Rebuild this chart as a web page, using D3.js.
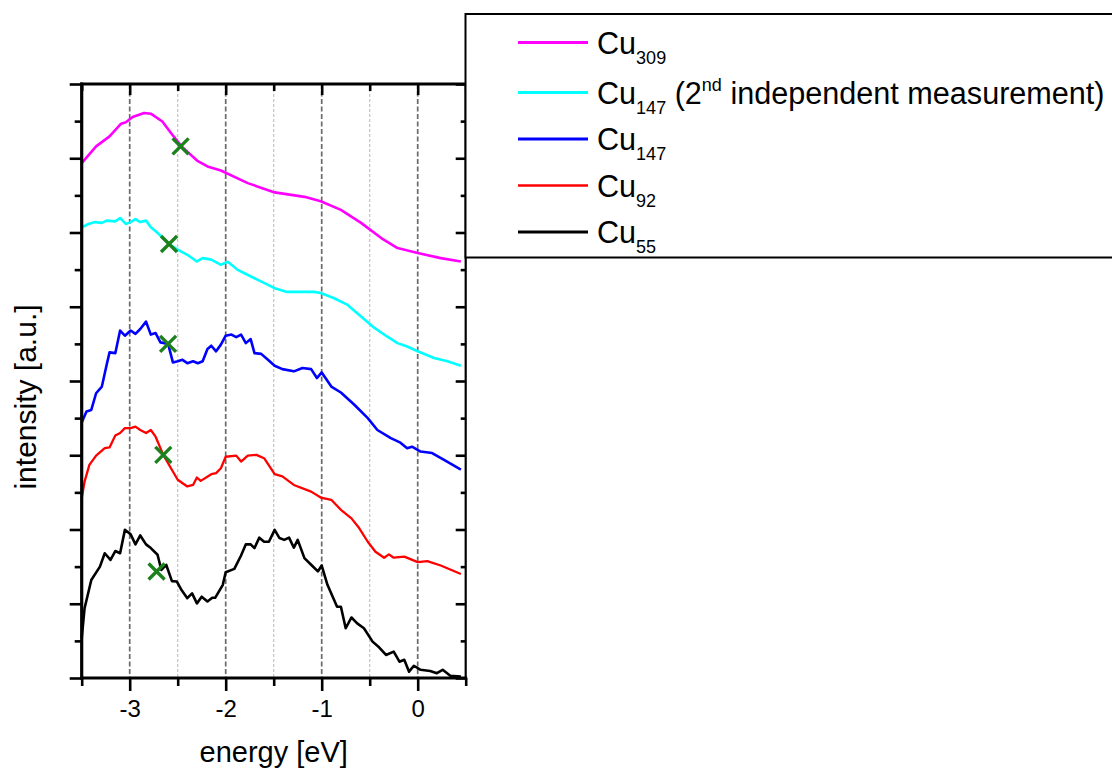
<!DOCTYPE html>
<html>
<head>
<meta charset="utf-8">
<script src="https://cdn.jsdelivr.net/npm/d3@7"></script>
<style>
  html, body { margin: 0; padding: 0; background: #fff; }
  svg { display: block; font-family: "Liberation Sans", Arial, sans-serif; }
</style>
</head>
<body>
<svg id="chart" width="1112" height="769"></svg>
<script>
// Valence-band spectra of Cu clusters, stacked with vertical offsets.
// Each series: [energy (eV), intensity (a.u., offset included)]
const cu309 = [
  [-3.50,13.87],[-3.35,14.32],[-3.21,14.59],[-3.09,14.93],[-3.04,14.97],[-2.97,15.11],
  [-2.85,15.22],[-2.78,15.20],[-2.66,14.99],[-2.57,14.68],[-2.46,14.32],[-2.29,13.92],
  [-2.19,13.78],[-2.05,13.67],[-1.77,13.33],[-1.49,13.08],[-1.18,12.96],[-1.01,12.84],
  [-0.80,12.61],[-0.59,12.26],[-0.38,11.85],[-0.21,11.58],[0.00,11.45],[0.24,11.31],[0.45,11.22]
];
const cu147Second = [
  [-3.50,12.14],[-3.43,12.23],[-3.36,12.28],[-3.29,12.26],[-3.24,12.32],[-3.15,12.30],
  [-3.10,12.39],[-3.04,12.23],[-2.99,12.28],[-2.94,12.36],[-2.89,12.28],[-2.83,12.32],
  [-2.78,12.14],[-2.71,11.99],[-2.59,11.69],[-2.50,11.54],[-2.40,11.40],[-2.30,11.22],
  [-2.24,11.31],[-2.15,11.27],[-2.05,11.13],[-1.98,11.21],[-1.93,11.11],[-1.88,11.00],
  [-1.81,10.91],[-1.67,10.73],[-1.49,10.50],[-1.36,10.40],[-1.22,10.40],[-1.08,10.40],
  [-1.01,10.37],[-0.87,10.23],[-0.73,10.05],[-0.59,9.74],[-0.45,9.43],[-0.32,9.20],
  [-0.21,9.02],[-0.11,8.93],[0.00,8.80],[0.17,8.62],[0.31,8.53],[0.45,8.41]
];
const cu147 = [
  [-3.50,6.88],[-3.45,7.18],[-3.40,7.22],[-3.35,7.67],[-3.29,7.85],[-3.24,8.44],
  [-3.21,8.77],[-3.15,8.75],[-3.10,9.36],[-3.05,9.22],[-2.99,9.36],[-2.94,9.27],
  [-2.89,9.40],[-2.83,9.60],[-2.78,9.25],[-2.73,9.29],[-2.68,9.04],[-2.60,9.00],
  [-2.55,8.50],[-2.50,8.53],[-2.45,8.57],[-2.40,8.48],[-2.34,8.53],[-2.29,8.48],
  [-2.24,8.53],[-2.19,8.86],[-2.15,8.95],[-2.10,8.80],[-2.05,8.98],[-2.00,9.22],
  [-1.94,9.25],[-1.89,9.18],[-1.84,9.25],[-1.79,9.02],[-1.74,9.13],[-1.70,8.75],
  [-1.63,8.73],[-1.56,8.57],[-1.49,8.41],[-1.41,8.32],[-1.29,8.26],[-1.20,8.35],
  [-1.11,8.32],[-1.05,8.08],[-1.00,8.23],[-0.90,7.85],[-0.80,7.69],[-0.66,7.36],
  [-0.52,7.00],[-0.42,6.68],[-0.28,6.46],[-0.18,6.34],[-0.11,6.19],[-0.06,6.23],
  [0.03,6.10],[0.15,6.06],[0.27,5.88],[0.45,5.61]
];
const cu92 = [
  [-3.50,4.84],[-3.47,5.29],[-3.42,5.74],[-3.35,5.99],[-3.26,6.19],[-3.21,6.21],
  [-3.15,6.53],[-3.10,6.60],[-3.05,6.73],[-2.99,6.73],[-2.94,6.77],[-2.89,6.68],
  [-2.83,6.60],[-2.78,6.68],[-2.73,6.50],[-2.65,6.01],[-2.57,5.65],[-2.50,5.34],
  [-2.40,5.16],[-2.34,5.20],[-2.30,5.40],[-2.26,5.31],[-2.15,5.49],[-2.10,5.52],
  [-2.05,5.65],[-2.00,5.96],[-1.89,5.99],[-1.84,5.83],[-1.77,5.99],[-1.68,6.01],
  [-1.60,5.92],[-1.49,5.49],[-1.41,5.43],[-1.29,5.20],[-1.11,5.02],[-1.01,4.86],
  [-0.90,4.80],[-0.80,4.53],[-0.69,4.30],[-0.61,4.04],[-0.52,3.67],[-0.44,3.40],
  [-0.35,3.24],[-0.30,3.33],[-0.25,3.24],[-0.14,3.27],[0.00,3.12],[0.10,3.15],
  [0.24,3.03],[0.45,2.80]
];
const cu55 = [
  [-3.50,1.07],[-3.47,1.88],[-3.40,2.64],[-3.31,3.00],[-3.26,3.36],[-3.20,3.18],
  [-3.15,3.42],[-3.10,3.36],[-3.05,3.99],[-2.99,3.87],[-2.94,3.60],[-2.89,3.84],
  [-2.83,3.60],[-2.78,3.50],[-2.71,3.32],[-2.67,2.91],[-2.62,3.05],[-2.56,2.61],
  [-2.51,2.60],[-2.46,2.37],[-2.40,2.15],[-2.35,2.28],[-2.30,2.01],[-2.25,2.19],
  [-2.19,2.06],[-2.14,2.16],[-2.11,2.16],[-2.03,2.51],[-2.00,2.85],[-1.91,2.94],
  [-1.84,3.30],[-1.79,3.60],[-1.74,3.60],[-1.70,3.50],[-1.65,3.78],[-1.60,3.67],
  [-1.55,3.67],[-1.49,3.99],[-1.44,3.77],[-1.39,3.72],[-1.34,3.78],[-1.29,3.51],
  [-1.25,3.72],[-1.18,3.23],[-1.11,3.05],[-1.04,2.87],[-1.00,3.03],[-0.94,2.51],
  [-0.84,1.92],[-0.80,1.92],[-0.75,1.34],[-0.69,1.63],[-0.63,1.47],[-0.56,1.34],
  [-0.47,0.98],[-0.40,0.82],[-0.33,0.62],[-0.25,0.71],[-0.19,0.44],[-0.14,0.49],
  [-0.09,0.17],[-0.04,0.33],[0.03,0.22],[0.13,0.19],[0.20,0.13],[0.26,0.22],
  [0.34,0.06],[0.45,0.04]
];

// Marked onset positions (green crosses), one per spectrum, top to bottom
const markerEnergy = [-2.47, -2.59, -2.60, -2.65, -2.72];
const markerIntensity = [14.32, 11.69, 9.00, 6.01, 2.87];

// Legend entries, top to bottom
const seriesSizes = ["309", "147", "147", "92", "55"];
const seriesNotes = ["", "2nd independent measurement", "", "", ""];
const seriesColors = ["#ff00ff", "#00ffff", "#0000ff", "#ff0000", "#000000"];
const seriesData = [cu309, cu147Second, cu147, cu92, cu55];

// Axis ticks
const xMajorTicks = [-3, -2, -1, 0];
const xMinorTicks = [-3.5, -2.5, -1.5, -0.5, 0.5];
const yMajorTicks = [0, 2, 4, 6, 8, 10, 12, 14, 16];
const yMinorTicks = [1, 3, 5, 7, 9, 11, 13, 15];

const svg = d3.select("#chart");
const plot = { left: 81.7, right: 465.7, top: 84, bottom: 678 };

const x = d3.scaleLinear().domain([-3.5, 0.5]).range([plot.left, plot.right]);
const y = d3.scaleLinear().domain([0, 16]).range([plot.bottom, plot.top]);

// Vertical reference lines
const grid = svg.append("g");
grid.selectAll("line.minor").data(xMinorTicks.filter(d => d > -3.5 && d < 0.5)).join("line")
  .attr("x1", d => x(d)).attr("x2", d => x(d))
  .attr("y1", plot.top).attr("y2", plot.bottom)
  .attr("stroke", "#c4c4c4").attr("stroke-width", 1.2).attr("stroke-dasharray", "3,2");
grid.selectAll("line.major").data(xMajorTicks).join("line")
  .attr("x1", d => x(d)).attr("x2", d => x(d))
  .attr("y1", plot.top).attr("y2", plot.bottom)
  .attr("stroke", "#6a6a6a").attr("stroke-width", 1.7).attr("stroke-dasharray", "5,2.5");

// Spectra
const line = d3.line().x(d => x(d[0])).y(d => y(d[1]));
svg.append("g").selectAll("path").data(seriesData).join("path")
  .attr("d", line)
  .attr("fill", "none")
  .attr("stroke", (d, i) => seriesColors[i])
  .attr("stroke-width", (d, i) => i === 3 ? 2.3 : 2.6)
  .attr("stroke-linejoin", "round");

// Onset markers
svg.append("g").selectAll("path").data(markerEnergy).join("path")
  .attr("transform", (d, i) => `translate(${x(d)},${y(markerIntensity[i])})`)
  .attr("d", "M-8,-8L8,8M-8,8L8,-8")
  .attr("stroke", "#1c801c").attr("stroke-width", 3.4).attr("fill", "none");

// Axes
function styleAxis(g) {
  g.select(".domain").remove();
  g.selectAll(".tick line").attr("stroke", "#000").attr("stroke-width", 2.6);
}
const bottomMajor = d3.axisBottom(x).tickValues(xMajorTicks).tickSize(13).tickPadding(7)
  .tickFormat(d => (d < 0 ? "-" : "") + Math.abs(d));
svg.append("g").attr("transform", `translate(0,${plot.bottom})`).call(bottomMajor).call(styleAxis)
  .selectAll("text").attr("font-size", 24).attr("font-family", "Liberation Sans, Arial, sans-serif")
  .attr("fill", "#000").attr("dy", "0.71em").attr("y", 22);
svg.append("g").attr("transform", `translate(0,${plot.bottom})`)
  .call(d3.axisBottom(x).tickValues(xMinorTicks).tickSize(8).tickFormat("")).call(styleAxis);

svg.append("g").attr("transform", `translate(0,${plot.top})`)
  .call(d3.axisTop(x).tickValues(xMajorTicks).tickSize(-11).tickFormat("")).call(styleAxis);
svg.append("g").attr("transform", `translate(0,${plot.top})`)
  .call(d3.axisTop(x).tickValues(xMinorTicks).tickSize(-7).tickFormat("")).call(styleAxis);

svg.append("g").attr("transform", `translate(${plot.left},0)`)
  .call(d3.axisLeft(y).tickValues(yMajorTicks).tickSize(12).tickFormat("")).call(styleAxis);
svg.append("g").attr("transform", `translate(${plot.left},0)`)
  .call(d3.axisLeft(y).tickValues(yMinorTicks).tickSize(7).tickFormat("")).call(styleAxis);

svg.append("g").attr("transform", `translate(${plot.right},0)`)
  .call(d3.axisRight(y).tickValues(yMajorTicks).tickSize(-10).tickFormat("")).call(styleAxis);
svg.append("g").attr("transform", `translate(${plot.right},0)`)
  .call(d3.axisRight(y).tickValues(yMinorTicks).tickSize(-5).tickFormat("")).call(styleAxis);

// Frame
const frame = svg.append("g").attr("stroke", "#000").attr("stroke-linecap", "square");
frame.append("line").attr("x1", plot.left).attr("x2", plot.right).attr("y1", plot.top).attr("y2", plot.top).attr("stroke-width", 3);
frame.append("line").attr("x1", plot.left).attr("x2", plot.right).attr("y1", plot.bottom).attr("y2", plot.bottom).attr("stroke-width", 3);
frame.append("line").attr("x1", plot.left).attr("x2", plot.left).attr("y1", plot.top).attr("y2", plot.bottom).attr("stroke-width", 3.2);
frame.append("line").attr("x1", plot.right).attr("x2", plot.right).attr("y1", plot.top).attr("y2", plot.bottom).attr("stroke-width", 2.2);

// Axis titles
svg.append("text")
  .attr("x", (plot.left + plot.right) / 2).attr("y", 762)
  .attr("text-anchor", "middle").attr("font-size", 29).attr("fill", "#000")
  .text("energy [eV]");
svg.append("text")
  .attr("transform", `translate(36,${(plot.top + plot.bottom) / 2 + 16}) rotate(-90)`)
  .attr("text-anchor", "middle").attr("font-size", 30).attr("fill", "#000")
  .text("intensity [a.u.]");

// Legend
const legend = svg.append("g");
legend.append("rect")
  .attr("x", 465.5).attr("y", 14).attr("width", 700).attr("height", 243.5)
  .attr("fill", "#fff").attr("stroke", "#000").attr("stroke-width", 2);

const rowBaseline = i => i === 0 ? 53.5 : 103.5 + (i - 1) * 46.5;
seriesSizes.forEach((size, i) => {
  const yb = rowBaseline(i);
  legend.append("line")
    .attr("x1", 518).attr("x2", 588).attr("y1", yb - 11).attr("y2", yb - 11)
    .attr("stroke", seriesColors[i]).attr("stroke-width", i === 3 ? 2.3 : 3.2);
  const t = legend.append("text").attr("x", 597).attr("y", yb)
    .attr("font-size", 30.6).attr("fill", "#000");
  t.append("tspan").text("Cu");
  t.append("tspan").attr("font-size", 18).attr("dy", 10).text(size);
  if (seriesNotes[i]) {
    const m = seriesNotes[i].match(/^(\d+)(st|nd|rd|th)(.*)$/);
    t.append("tspan").attr("dy", -10).text("\u00a0(" + m[1]);
    t.append("tspan").attr("font-size", 18).attr("dy", -13).text(m[2]);
    t.append("tspan").attr("dy", 13).text(m[3] + ")");
  }
});
</script>
</body>
</html>
